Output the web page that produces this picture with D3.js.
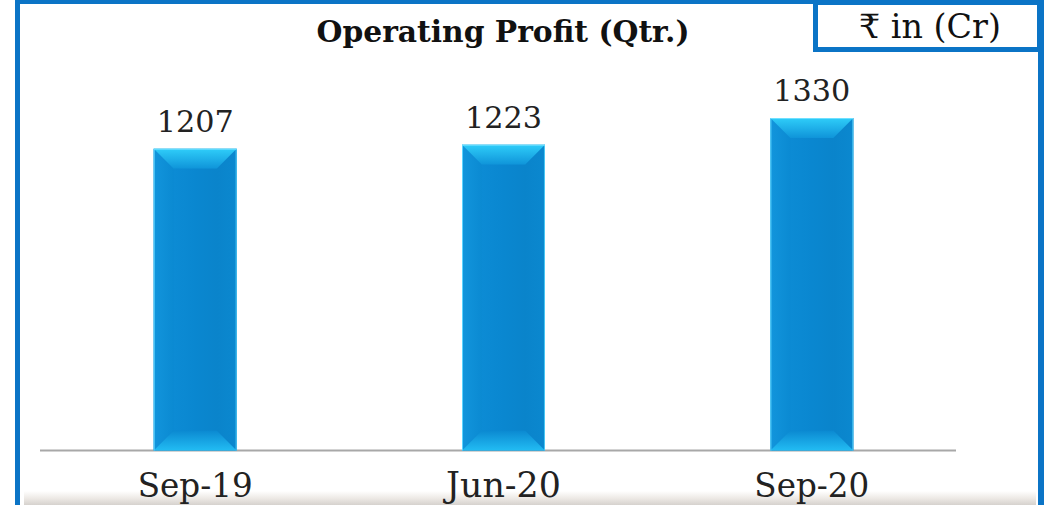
<!DOCTYPE html>
<html>
<head>
<meta charset="utf-8">
<script src="https://cdn.jsdelivr.net/npm/d3@7"></script>
<style>
  html, body { margin: 0; padding: 0; background: #fff; }
  svg { display: block; }
</style>
</head>
<body>
<svg id="chart" width="1044" height="505"></svg>
<script>
const categories = ["Sep-19", "Jun-20", "Sep-20"];
const values = [1207, 1223, 1330];
const title = "Operating Profit (Qtr.)";
const unitLabel = "₹ in (Cr)";

const W = 1044, H = 505;
const svg = d3.select("#chart");
const blue = "#0b74c6";
const serif = "'DejaVu Serif', 'Liberation Serif', serif";

const defs = svg.append("defs");
const face = defs.append("linearGradient").attr("id", "face").attr("x1", 0).attr("x2", 1).attr("y1", 0).attr("y2", 0);
face.append("stop").attr("offset", "0%").attr("stop-color", "#0c8bd4");
face.append("stop").attr("offset", "50%").attr("stop-color", "#0a87d0");
face.append("stop").attr("offset", "100%").attr("stop-color", "#0a84cb");
const topG = defs.append("linearGradient").attr("id", "topBevel").attr("x1", 0).attr("x2", 0).attr("y1", 0).attr("y2", 1);
topG.append("stop").attr("offset", "0%").attr("stop-color", "#2fcdf9");
topG.append("stop").attr("offset", "100%").attr("stop-color", "#0f94d9");
const botG = defs.append("linearGradient").attr("id", "botBevel").attr("x1", 0).attr("x2", 0).attr("y1", 0).attr("y2", 1);
botG.append("stop").attr("offset", "0%").attr("stop-color", "#0b89d1");
botG.append("stop").attr("offset", "100%").attr("stop-color", "#22bcf3");
const leftG = defs.append("linearGradient").attr("id", "leftBevel").attr("x1", 0).attr("x2", 1).attr("y1", 0).attr("y2", 0);
leftG.append("stop").attr("offset", "0%").attr("stop-color", "#1295dc");
leftG.append("stop").attr("offset", "100%").attr("stop-color", "#0b8ad2");
const rightG = defs.append("linearGradient").attr("id", "rightBevel").attr("x1", 0).attr("x2", 1).attr("y1", 0).attr("y2", 0);
rightG.append("stop").attr("offset", "0%").attr("stop-color", "#0a84cb");
rightG.append("stop").attr("offset", "100%").attr("stop-color", "#0b88cf");
const shadowG = defs.append("linearGradient").attr("id", "shadow").attr("x1", 0).attr("x2", 0).attr("y1", 0).attr("y2", 1);
shadowG.append("stop").attr("offset", "0%").attr("stop-color", "#ffffff");
shadowG.append("stop").attr("offset", "55%").attr("stop-color", "#ece8e4");
shadowG.append("stop").attr("offset", "100%").attr("stop-color", "#d6d2ce");

svg.append("rect").attr("x", 24).attr("y", 491).attr("width", 1012).attr("height", 14).attr("fill", "url(#shadow)");

svg.append("rect").attr("x", 15).attr("y", 0).attr("width", 5).attr("height", H).attr("fill", blue);
svg.append("rect").attr("x", 15).attr("y", 0).attr("width", W - 15).attr("height", 4).attr("fill", blue);
svg.append("rect").attr("x", 1038).attr("y", 0).attr("width", 6).attr("height", H).attr("fill", blue);

const x = d3.scalePoint().domain(categories).range([41, 966]).padding(0.5);
const y = d3.scaleLinear().domain([0, 1400]).range([450.5, 100.5]);
const bw = x.step() * 0.269;
const bev = 20;

svg.append("line").attr("x1", 40).attr("x2", 956).attr("y1", y(0)).attr("y2", y(0))
  .attr("stroke", "#a8a8a8").attr("stroke-width", 2);

const data = categories.map((c, i) => ({ c, v: values[i] }));
const bars = svg.append("g").selectAll("g").data(data).join("g");

bars.each(function(d) {
  const g = d3.select(this);
  const x0 = x(d.c) - bw / 2, x1 = x(d.c) + bw / 2;
  const y0 = y(d.v), y1 = y(0);
  const ix0 = x0 + bev, ix1 = x1 - bev, iy0 = y0 + bev, iy1 = y1 - bev;
  g.append("rect").attr("x", x0).attr("y", y0).attr("width", x1 - x0).attr("height", y1 - y0).attr("fill", "url(#face)");
  g.append("path").attr("d", `M${x0},${y0}L${x0},${y1}L${ix0},${iy1}L${ix0},${iy0}Z`).attr("fill", "url(#leftBevel)");
  g.append("path").attr("d", `M${x1},${y0}L${x1},${y1}L${ix1},${iy1}L${ix1},${iy0}Z`).attr("fill", "url(#rightBevel)");
  g.append("path").attr("d", `M${x0},${y0}L${x1},${y0}L${ix1},${iy0}L${ix0},${iy0}Z`).attr("fill", "url(#topBevel)");
  g.append("path").attr("d", `M${x0},${y1}L${x1},${y1}L${ix1},${iy1}L${ix0},${iy1}Z`).attr("fill", "url(#botBevel)");
  g.append("rect").attr("x", ix0).attr("y", iy0).attr("width", ix1 - ix0).attr("height", iy1 - iy0).attr("fill", "url(#face)");
  g.append("line").attr("x1", x0 + 0.5).attr("x2", x0 + 0.5).attr("y1", y0).attr("y2", y1).attr("stroke", "#5fd6ff").attr("stroke-width", 1);
  g.append("line").attr("x1", x1 - 0.5).attr("x2", x1 - 0.5).attr("y1", y0).attr("y2", y1).attr("stroke", "#4cc8f5").attr("stroke-width", 1);
  g.append("line").attr("x1", x0).attr("x2", x1).attr("y1", y0 + 0.5).attr("y2", y0 + 0.5).attr("stroke", "#6ee0ff").attr("stroke-width", 1);
});

function fit(sel, target) {
  const fs = parseFloat(sel.attr("font-size"));
  const w = sel.node().getComputedTextLength();
  sel.attr("font-size", (fs * target / w).toFixed(2));
}

bars.append("text")
  .attr("x", d => x(d.c)).attr("y", d => y(d.v) - 17)
  .attr("text-anchor", "middle").attr("font-family", serif).attr("font-size", 30)
  .attr("fill", "#222").text(d => d.v)
  .each(function() { fit(d3.select(this), 77); });

svg.append("g").selectAll("text").data(categories).join("text")
  .attr("x", d => x(d)).attr("y", 497)
  .attr("text-anchor", "middle").attr("font-family", serif).attr("font-size", 30)
  .attr("fill", "#222").text(d => d)
  .each(function() { fit(d3.select(this), 115); });

const t = svg.append("text").attr("x", 503).attr("y", 42).attr("text-anchor", "middle")
  .attr("font-family", serif).attr("font-weight", "bold").attr("font-size", 24)
  .attr("fill", "#111").text(title);
fit(t, 373);

svg.append("rect").attr("x", 815.5).attr("y", 2.5).attr("width", 224).attr("height", 47)
  .attr("fill", "#fff").attr("stroke", blue).attr("stroke-width", 5);
const u = svg.append("text").attr("x", 930).attr("y", 38).attr("text-anchor", "middle")
  .attr("font-family", serif).attr("font-size", 28).attr("fill", "#111").text(unitLabel);
fit(u, 142);
</script>
</body>
</html>
